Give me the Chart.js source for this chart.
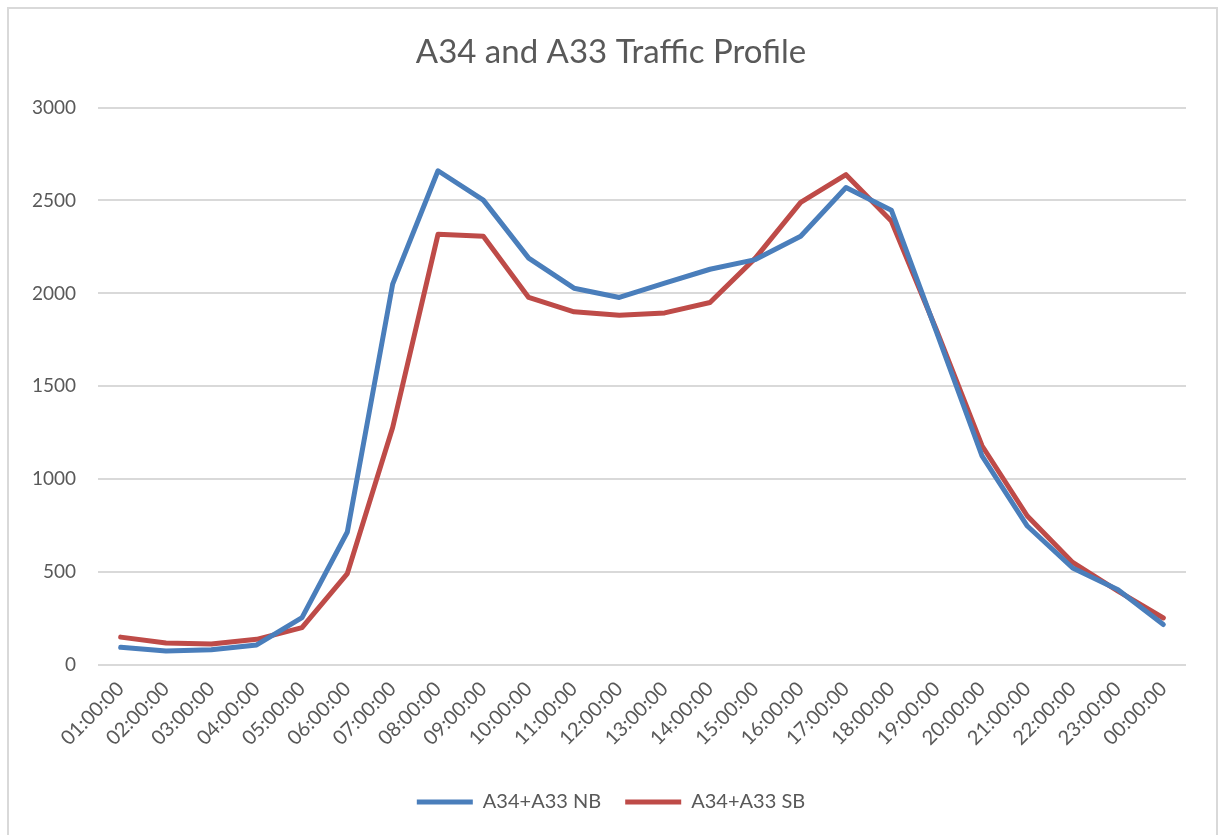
<!DOCTYPE html>
<html>
<head>
<meta charset="utf-8">
<script src="https://cdn.jsdelivr.net/npm/chart.js@4.4.1/dist/chart.umd.min.js"></script>
<style>
  html, body { margin: 0; padding: 0; background: #fff; }
  #frame {
    position: absolute; left: 7px; top: 7px; width: 1207px; height: 840px;
    border: 2px solid #d9d9d9; border-bottom: none;
  }
  #wrap { position: absolute; left: 0; top: 0; width: 1218px; height: 835px; }
</style>
</head>
<body>
<div id="frame"></div>
<div id="wrap"><canvas id="chart" width="1218" height="835"></canvas></div>
<script>
// hourly profile
var hours = ['01:00:00', '02:00:00', '03:00:00', '04:00:00', '05:00:00', '06:00:00',
             '07:00:00', '08:00:00', '09:00:00', '10:00:00', '11:00:00', '12:00:00',
             '13:00:00', '14:00:00', '15:00:00', '16:00:00', '17:00:00', '18:00:00',
             '19:00:00', '20:00:00', '21:00:00', '22:00:00', '23:00:00', '00:00:00'];
var nb = [95, 75, 82, 108, 255, 716, 2050, 2660, 2502, 2190, 2028, 1978,
          2055, 2130, 2182, 2308, 2570, 2448, 1790, 1125, 748, 522, 405, 218];
var sb = [150, 118, 113, 138, 201, 492, 1278, 2318, 2308, 1978, 1901, 1883,
          1895, 1951, 2190, 2490, 2639, 2390, 1800, 1180, 802, 552, 398, 253];

var txt = '#595959';
var font = 'Lato, "Open Sans", sans-serif';

new Chart('chart', {
    type: 'line',
    data: {
        labels: hours,
        datasets: [
            {label: 'A34+A33 NB', data: nb, borderColor: '#4a7ebb', backgroundColor: '#4a7ebb',
             borderWidth: 5, pointRadius: 0, tension: 0, borderJoinStyle: 'round', borderCapStyle: 'round'},
            {label: 'A34+A33 SB', data: sb, borderColor: '#be4b48', backgroundColor: '#be4b48',
             borderWidth: 5, pointRadius: 0, tension: 0, borderJoinStyle: 'round', borderCapStyle: 'round'}
        ]
    },
    options: {
        responsive: false,
        animation: false,
        layout: {padding: {left: 14, right: 10, top: 0, bottom: 13}},
        plugins: {
            title: {
                display: true,
                text: 'A34 and A33 Traffic Profile',
                color: txt,
                font: {family: font, size: 33, weight: 'normal'},
                padding: {top: 33, bottom: 35}
            },
            legend: {
                position: 'bottom',
                labels: {
                    color: txt,
                    font: {family: font, size: 20},
                    usePointStyle: true,
                    pointStyle: 'line',
                    pointStyleWidth: 56,
                    boxWidth: 56,
                    padding: 24
                }
            },
            tooltip: {enabled: false}
        },
        scales: {
            x: {
                offset: true,
                grid: {display: false},
                border: {display: false},
                ticks: {color: txt, font: {family: font, size: 20}, minRotation: 45, maxRotation: 45, padding: 4},
                afterFit: function(s) { s.height = 103; }
            },
            y: {
                min: 0, max: 3000,
                grid: {color: '#d9d9d9', lineWidth: 2, drawTicks: false},
                border: {display: false},
                ticks: {
                    stepSize: 500, color: txt, font: {family: font, size: 19}, padding: 22,
                    callback: function(v) { return String(v); }
                },
                afterFit: function(s) { s.width = 84; }
            },
            // empty right-hand spacer so the title centres like the original
            pad: {
                position: 'right',
                grid: {display: false},
                border: {display: false},
                ticks: {display: false},
                afterFit: function(s) { s.width = 22; }
            }
        }
    }
});
</script>
</body>
</html>
